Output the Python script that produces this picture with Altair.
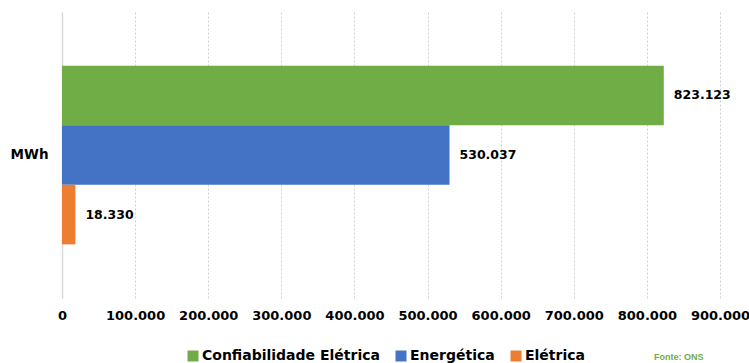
import altair as alt
import pandas as pd

category = ["MWh", "MWh", "MWh"]
series = ["Confiabilidade Elétrica", "Energética", "Elétrica"]
values = [823123, 530037, 18330]
value_labels = ["823.123", "530.037", "18.330"]
colors = ["#70AD47", "#4472C4", "#ED7D31"]
x_ticks = [0, 100000, 200000, 300000, 400000, 500000, 600000, 700000, 800000, 900000]
source_note = ["Fonte: ONS"]

df = pd.DataFrame({"cat": category, "serie": series, "valor": values, "rotulo": value_labels})

y_enc = alt.Y(
    "cat:N",
    title=None,
    scale=alt.Scale(paddingInner=0, paddingOuter=0.3),
    axis=alt.Axis(
        labelFont="DejaVu Sans", labelFontWeight="bold", labelFontSize=13.5,
        labelColor="#000000", labelPadding=14, ticks=False,
        domain=True, domainColor="#d9d9d9", domainWidth=1.5, grid=False,
    ),
)
yoff_enc = alt.YOffset(
    "serie:N", sort=series,
    scale=alt.Scale(paddingInner=0, paddingOuter=0),
)
x_enc = alt.X(
    "valor:Q",
    title=None,
    scale=alt.Scale(domain=[0, 900000], nice=False),
    axis=alt.Axis(
        values=x_ticks,
        labelExpr="replace(format(datum.value, ','), ',', '.')",
        labelFont="DejaVu Sans", labelFontWeight="bold", labelFontSize=13,
        labelColor="#000000", labelPadding=11, ticks=False, domain=False,
        grid=True, gridColor="#d0d0d0", gridDash=[2, 2], gridWidth=1,
        labelFlush=False,
    ),
)

bars = alt.Chart(df).mark_bar().encode(
    y=y_enc,
    yOffset=yoff_enc,
    x=x_enc,
    color=alt.Color(
        "serie:N",
        sort=series,
        scale=alt.Scale(domain=series, range=colors),
        legend=alt.Legend(
            title=None, orient="none", direction="horizontal",
            legendX=124, legendY=337, padding=0,
            symbolType="square", symbolSize=121, symbolStrokeWidth=0,
            labelFont="DejaVu Sans", labelFontWeight="bold", labelFontSize=14,
            labelColor="#000000", labelOffset=2, columnPadding=14,
            labelLimit=0,
        ),
    ),
)

labels = alt.Chart(df).mark_text(
    align="left", baseline="middle", dx=10,
    font="DejaVu Sans", fontWeight="bold", fontSize=12.5, color="#000000",
).encode(
    y=alt.Y("cat:N"),
    yOffset=alt.YOffset("serie:N", sort=series),
    x=alt.X("valor:Q"),
    text="rotulo:N",
)

note = alt.Chart(pd.DataFrame({"t": source_note})).mark_text(
    align="left", baseline="middle",
    font="Liberation Sans", fontWeight="bold", fontSize=9, color="#70AD47",
).encode(
    x=alt.value(592), y=alt.value(345), text="t:N",
)

chart = alt.layer(bars, labels, note).properties(
    width=658, height=286,
    autosize=alt.AutoSizeParams(type="none"),
    padding={"left": 62, "top": 12, "right": 29, "bottom": 65},
    background="#ffffff",
).configure_view(stroke=None)

chart.save("out.html", embed_options={"renderer": "svg", "actions": False})
